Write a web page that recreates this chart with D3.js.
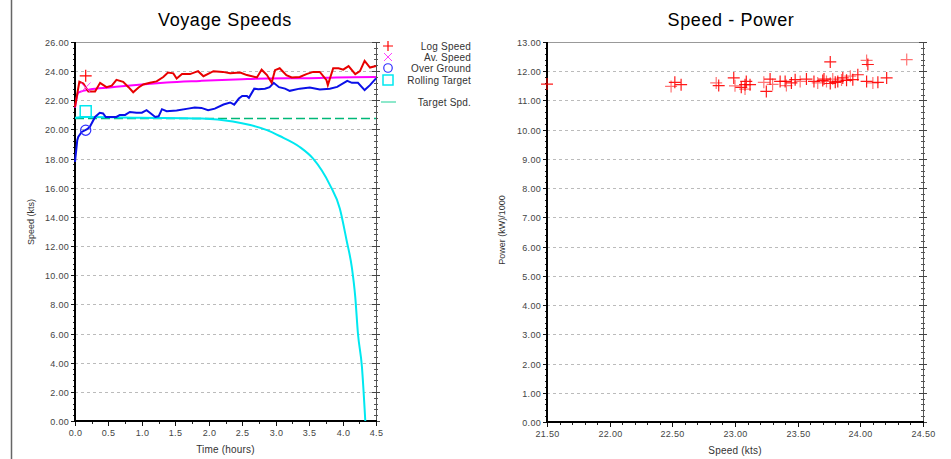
<!DOCTYPE html>
<html>
<head>
<meta charset="utf-8">
<script src="https://cdn.jsdelivr.net/npm/d3@7"></script>
<style>
  html, body { margin: 0; padding: 0; background: #fff; }
  svg { display: block; font-family: "Liberation Sans", Arial, sans-serif; }
</style>
</head>
<body>
<div id="chart"></div>
<script>
// ---- Voyage Speeds data (time in hours, speed in kts) ----
var logTime = [0, 0.065, 0.125, 0.2, 0.3, 0.375, 0.47, 0.55, 0.62, 0.72, 0.8, 0.87, 0.95, 1.02, 1.12, 1.22, 1.32, 1.39, 1.47, 1.52, 1.6, 1.72, 1.84, 1.92, 2.07, 2.21, 2.32, 2.47, 2.57, 2.72, 2.79, 2.87, 2.94, 2.99, 3.06, 3.16, 3.24, 3.36, 3.46, 3.56, 3.66, 3.76, 3.78, 3.86, 3.94, 4.01, 4.09, 4.19, 4.26, 4.33, 4.41, 4.5];
var logSpeed = [21.55, 23.27, 23.15, 22.6, 22.6, 23.2, 22.9, 23.0, 23.4, 23.27, 22.9, 22.55, 22.88, 23.09, 23.2, 23.3, 23.6, 23.9, 23.85, 23.5, 23.8, 23.8, 24.0, 23.65, 24.0, 23.95, 23.85, 23.9, 23.73, 23.57, 24.1, 23.73, 23.2, 24.07, 24.2, 23.73, 23.57, 23.6, 23.8, 23.95, 23.95, 23.38, 23.04, 24.2, 24.2, 24.1, 24.35, 23.8, 24.0, 24.7, 24.25, 24.35];

var avTime = [0, 0.015, 0.045, 0.075, 0.22, 0.52, 0.87, 1.37, 1.87, 2.5, 2.87, 3.5, 3.9, 4.5];
var avSpeed = [21.5, 21.9, 22.5, 22.58, 22.74, 22.88, 23.04, 23.22, 23.33, 23.45, 23.5, 23.52, 23.57, 23.6];

var ogTime = [0, 0.034, 0.05, 0.1, 0.175, 0.22, 0.3, 0.37, 0.42, 0.46, 0.62, 0.67, 0.75, 0.82, 0.92, 1.0, 1.07, 1.12, 1.2, 1.25, 1.3, 1.37, 1.52, 1.69, 1.79, 1.89, 1.99, 2.09, 2.22, 2.32, 2.38, 2.45, 2.5, 2.57, 2.6, 2.68, 2.74, 2.84, 2.91, 2.97, 3.05, 3.14, 3.21, 3.36, 3.51, 3.66, 3.81, 3.92, 4.07, 4.14, 4.23, 4.33, 4.41, 4.5];
var ogSpeed = [17.77, 19.26, 19.5, 19.83, 20.0, 20.17, 20.86, 21.14, 21.1, 20.85, 20.86, 21.0, 21.0, 21.2, 21.15, 21.15, 21.32, 21.15, 20.86, 20.9, 21.39, 21.25, 21.3, 21.43, 21.5, 21.48, 21.32, 21.43, 21.71, 21.85, 21.7, 22.12, 22.3, 22.3, 22.17, 22.8, 22.76, 22.8, 22.9, 23.2, 22.9, 22.8, 22.65, 22.8, 22.88, 22.74, 22.8, 22.92, 23.34, 23.2, 23.2, 22.7, 23.04, 23.5];

var rtTime = [0, 0.15, 1.0, 1.9, 2.36, 2.62, 2.87, 3.06, 3.36, 3.56, 3.81, 3.96, 4.06, 4.14, 4.19, 4.23, 4.29, 4.34];
var rtSpeed = [20.8, 20.85, 20.8, 20.75, 20.55, 20.3, 19.95, 19.55, 18.8, 18.0, 16.2, 14.56, 12.4, 10.5, 8.5, 6.0, 3.7, 0.0];

var targetTime = [0, 4.5];
var targetSpeed = [20.75, 20.75];

// single symbols drawn near the start of each series
var markerTime = 0.16;
var markerValues = [23.68, 22.88, 19.95, 21.25];

var legendLabels = ["Log Speed", "Av. Speed", "Over Ground", "Rolling Target", "Target Spd."];

var leftYTicks = [0, 2, 4, 6, 8, 10, 12, 14, 16, 18, 20, 22, 24, 26];
var leftXTicks = [0, 0.5, 1, 1.5, 2, 2.5, 3, 3.5, 4, 4.5];

// ---- Speed - Power data ----
var spSpeed = [21.5, 22.49, 22.52, 22.57, 22.85, 22.87, 22.99, 23.0, 23.05, 23.08, 23.08, 23.09, 23.12, 23.23, 23.25, 23.28, 23.3, 23.36, 23.4, 23.41, 23.45, 23.48, 23.52, 23.57, 23.63, 23.66, 23.7, 23.71, 23.73, 23.76, 23.76, 23.78, 23.8, 23.82, 23.85, 23.86, 23.89, 23.92, 23.94, 23.98, 24.05, 24.06, 24.05, 24.1, 24.14, 24.21, 24.37];
var spPower = [11.56, 11.48, 11.62, 11.54, 11.6, 11.51, 11.77, 11.5, 11.45, 11.54, 11.39, 11.65, 11.54, 11.62, 11.31, 11.73, 11.55, 11.65, 11.65, 11.51, 11.6, 11.71, 11.65, 11.73, 11.65, 11.6, 11.68, 11.73, 11.65, 12.32, 11.58, 11.73, 11.62, 11.65, 11.7, 11.77, 11.69, 11.83, 11.71, 11.88, 12.37, 12.23, 11.65, 11.6, 11.62, 11.77, 12.4];

var rightYTicks = [0, 1, 2, 3, 4, 5, 6, 7, 8, 9, 10, 11, 12, 13];
var rightXTicks = [21.5, 22, 22.5, 23, 23.5, 24, 24.5];

var W = 951, H = 459;
var svg = d3.select('#chart').append('svg')
  .attr('width', W).attr('height', H);

// page frame line at the left
svg.append('line')
  .attr('x1', 11.5).attr('x2', 11.5).attr('y1', 0).attr('y2', H)
  .attr('stroke', '#666').attr('stroke-width', 1.5);

function drawFrame(x, y, opt) {
  var g = svg.append('g');
  var x0 = x.range()[0], x1 = x.range()[1];
  var y0 = y.range()[0], y1 = y.range()[1];

  // horizontal grid
  opt.yTicks.forEach(function(v) {
    if (v === opt.yTicks[0] || v === opt.yTicks[opt.yTicks.length - 1]) return;
    g.append('line')
      .attr('x1', x0).attr('x2', x1)
      .attr('y1', Math.round(y(v)) + 0.5).attr('y2', Math.round(y(v)) + 0.5)
      .attr('stroke', '#bbb').attr('stroke-width', 1).attr('stroke-dasharray', '3,3');
  });

  // top and right border
  g.append('line').attr('x1', x0).attr('x2', x1).attr('y1', y1 + 0.5).attr('y2', y1 + 0.5)
    .attr('stroke', '#999');
  g.append('line').attr('x1', x1 + 0.5).attr('x2', x1 + 0.5).attr('y1', y1).attr('y2', y0)
    .attr('stroke', '#555');

  // y ticks (left outside, right both sides)
  var yStep = opt.yTicks[1] - opt.yTicks[0];
  var yMinor = [];
  for (var i = 0; i < opt.yTicks.length - 1; i++) {
    for (var k = 1; k < opt.yMinorN; k++) yMinor.push(opt.yTicks[i] + yStep * k / opt.yMinorN);
  }
  yMinor.forEach(function(v) {
    var yy = Math.round(y(v)) + 0.5;
    g.append('line').attr('x1', x0 - 2).attr('x2', x0).attr('y1', yy).attr('y2', yy).attr('stroke', '#222');
    g.append('line').attr('x1', x1 - 2).attr('x2', x1 + 2).attr('y1', yy).attr('y2', yy).attr('stroke', '#555');
  });
  opt.yTicks.forEach(function(v) {
    var yy = Math.round(y(v)) + 0.5;
    g.append('line').attr('x1', x0 - 4).attr('x2', x0).attr('y1', yy).attr('y2', yy).attr('stroke', '#111');
    g.append('line').attr('x1', x1 - 4).attr('x2', x1 + 4).attr('y1', yy).attr('y2', yy).attr('stroke', '#444');
    g.append('text')
      .attr('x', x0 - 6).attr('y', yy + 3)
      .attr('text-anchor', 'end')
      .attr('font-size', '9px').attr('letter-spacing', '0.3px').attr('fill', '#444')
      .text(v.toFixed(2));
  });

  // x ticks
  var xStep = opt.xTicks[1] - opt.xTicks[0];
  var xMinor = [];
  for (var j = 0; j < opt.xTicks.length - 1; j++) {
    for (var m = 1; m < opt.xMinorN; m++) xMinor.push(opt.xTicks[j] + xStep * m / opt.xMinorN);
  }
  xMinor.forEach(function(v) {
    var xx = Math.round(x(v)) + 0.5;
    g.append('line').attr('x1', xx).attr('x2', xx).attr('y1', y0).attr('y2', y0 + 3).attr('stroke', '#222');
  });
  opt.xTicks.forEach(function(v) {
    var xx = Math.round(x(v)) + 0.5;
    g.append('line').attr('x1', xx).attr('x2', xx).attr('y1', y0).attr('y2', y0 + 5).attr('stroke', '#111');
    g.append('text')
      .attr('x', xx).attr('y', y0 + 15)
      .attr('text-anchor', 'middle')
      .attr('font-size', '9px').attr('letter-spacing', '0.3px').attr('fill', '#444')
      .text(opt.xFormat(v));
  });

  // axis lines
  g.append('line').attr('x1', x0).attr('x2', x0).attr('y1', y1).attr('y2', y0 + 1)
    .attr('stroke', '#000').attr('stroke-width', 2);
  g.append('line').attr('x1', x0 - 1).attr('x2', x1 + 1).attr('y1', y0).attr('y2', y0)
    .attr('stroke', '#000').attr('stroke-width', 2);

  // titles
  svg.append('text')
    .attr('x', opt.titleX).attr('y', 26)
    .attr('text-anchor', 'middle')
    .attr('font-size', '18px').attr('letter-spacing', '0.6px').attr('fill', '#000')
    .text(opt.title);
  svg.append('text')
    .attr('x', (x0 + x1) / 2).attr('y', y0 + 32)
    .attr('text-anchor', 'middle')
    .attr('font-size', '10px').attr('letter-spacing', '0.2px').attr('fill', '#333')
    .text(opt.xTitle);
  svg.append('text')
    .attr('transform', 'translate(' + opt.yTitleX + ',' + opt.yTitleY + ') rotate(-90)')
    .attr('text-anchor', 'middle')
    .attr('font-size', '9px').attr('fill', '#333')
    .text(opt.yTitle);
}

// ================= Voyage Speeds =================
var x1 = d3.scaleLinear().domain([0, 4.5]).range([75, 376]);
var y1 = d3.scaleLinear().domain([0, 26]).range([421, 42]);

drawFrame(x1, y1, {
  yTicks: leftYTicks, xTicks: leftXTicks, yMinorN: 5, xMinorN: 2,
  xFormat: function(v) { return v.toFixed(1); },
  title: 'Voyage Speeds', titleX: 225,
  xTitle: 'Time (hours)', yTitle: 'Speed (kts)', yTitleX: 34, yTitleY: 222
});

var plot1 = svg.append('g');
var line1 = d3.line()
  .x(function(d) { return x1(d[0]); })
  .y(function(d) { return y1(d[1]); });
var smooth1 = d3.line()
  .curve(d3.curveMonotoneX)
  .x(function(d) { return x1(d[0]); })
  .y(function(d) { return y1(d[1]); });
function pairs(t, v) { return t.map(function(tt, i) { return [tt, v[i]]; }); }

plot1.append('path').datum(pairs(targetTime, targetSpeed))
  .attr('d', line1).attr('fill', 'none')
  .attr('stroke', '#00b878').attr('stroke-width', 1.5).attr('stroke-dasharray', '9,4');
plot1.append('path').datum(pairs(rtTime, rtSpeed))
  .attr('d', smooth1).attr('fill', 'none')
  .attr('stroke', '#00e8f0').attr('stroke-width', 2);
plot1.append('path').datum(pairs(avTime, avSpeed))
  .attr('d', smooth1).attr('fill', 'none')
  .attr('stroke', '#ff00ff').attr('stroke-width', 2);
plot1.append('path').datum(pairs(ogTime, ogSpeed))
  .attr('d', line1).attr('fill', 'none')
  .attr('stroke', '#0a10e8').attr('stroke-width', 2);
plot1.append('path').datum(pairs(logTime, logSpeed))
  .attr('d', line1).attr('fill', 'none')
  .attr('stroke', '#e80000').attr('stroke-width', 2);

// symbols
var symColors = ['#ff0000', '#ff40ff', '#3030ff', '#00e8f0'];
function drawSymbol(g, kind, cx, cy, color, s) {
  if (kind === 0) {
    g.append('path').attr('d', 'M' + (cx - s) + ',' + cy + 'H' + (cx + s) + 'M' + cx + ',' + (cy - s) + 'V' + (cy + s))
      .attr('stroke', color).attr('stroke-width', 1.2).attr('fill', 'none');
  } else if (kind === 1) {
    var d = s * 0.8;
    g.append('path').attr('d', 'M' + (cx - d) + ',' + (cy - d) + 'L' + (cx + d) + ',' + (cy + d) + 'M' + (cx - d) + ',' + (cy + d) + 'L' + (cx + d) + ',' + (cy - d))
      .attr('stroke', color).attr('stroke-width', 1).attr('fill', 'none');
  } else if (kind === 2) {
    g.append('circle').attr('cx', cx).attr('cy', cy).attr('r', s * 0.85)
      .attr('stroke', color).attr('stroke-width', 1.2).attr('fill', 'none');
  } else {
    g.append('rect').attr('x', cx - s).attr('y', cy - s).attr('width', 2 * s).attr('height', 2 * s)
      .attr('stroke', color).attr('stroke-width', 1.5).attr('fill', 'none');
  }
}
markerValues.forEach(function(v, i) {
  drawSymbol(plot1, i, x1(markerTime), y1(v), symColors[i], i === 3 ? 5.5 : 6);
});

// legend
var legend = svg.append('g');
var legendY = [46, 57, 68, 80, 102];
legendLabels.forEach(function(lbl, i) {
  if (i < 4) {
    drawSymbol(legend, i, 388, legendY[i], symColors[i], 5);
  } else {
    legend.append('line').attr('x1', 381).attr('x2', 396).attr('y1', legendY[i]).attr('y2', legendY[i])
      .attr('stroke', '#40d8a8').attr('stroke-width', 1.2);
  }
  legend.append('text')
    .attr('x', 471).attr('y', legendY[i] + 3.5)
    .attr('text-anchor', 'end')
    .attr('font-size', '10px').attr('letter-spacing', '0.2px').attr('fill', '#333')
    .text(lbl);
});

// ================= Speed - Power =================
var x2 = d3.scaleLinear().domain([21.5, 24.5]).range([547, 923]);
var y2 = d3.scaleLinear().domain([0, 13]).range([422, 42]);

drawFrame(x2, y2, {
  yTicks: rightYTicks, xTicks: rightXTicks, yMinorN: 5, xMinorN: 5,
  xFormat: function(v) { return v.toFixed(2); },
  title: 'Speed - Power', titleX: 731,
  xTitle: 'Speed (kts)', yTitle: 'Power (kW)/1000', yTitleX: 505, yTitleY: 230
});

var plot2 = svg.append('g');
spSpeed.forEach(function(s, i) {
  var cx = x2(s), cy = y2(spPower[i]);
  plot2.append('path')
    .attr('d', 'M' + (cx - 6) + ',' + cy + 'H' + (cx + 6) + 'M' + cx + ',' + (cy - 6) + 'V' + (cy + 6))
    .attr('stroke', '#ff0000').attr('stroke-width', 1.2).attr('fill', 'none')
    .attr('opacity', i % 3 === 1 ? 0.55 : 0.9);
});
</script>
</body>
</html>
